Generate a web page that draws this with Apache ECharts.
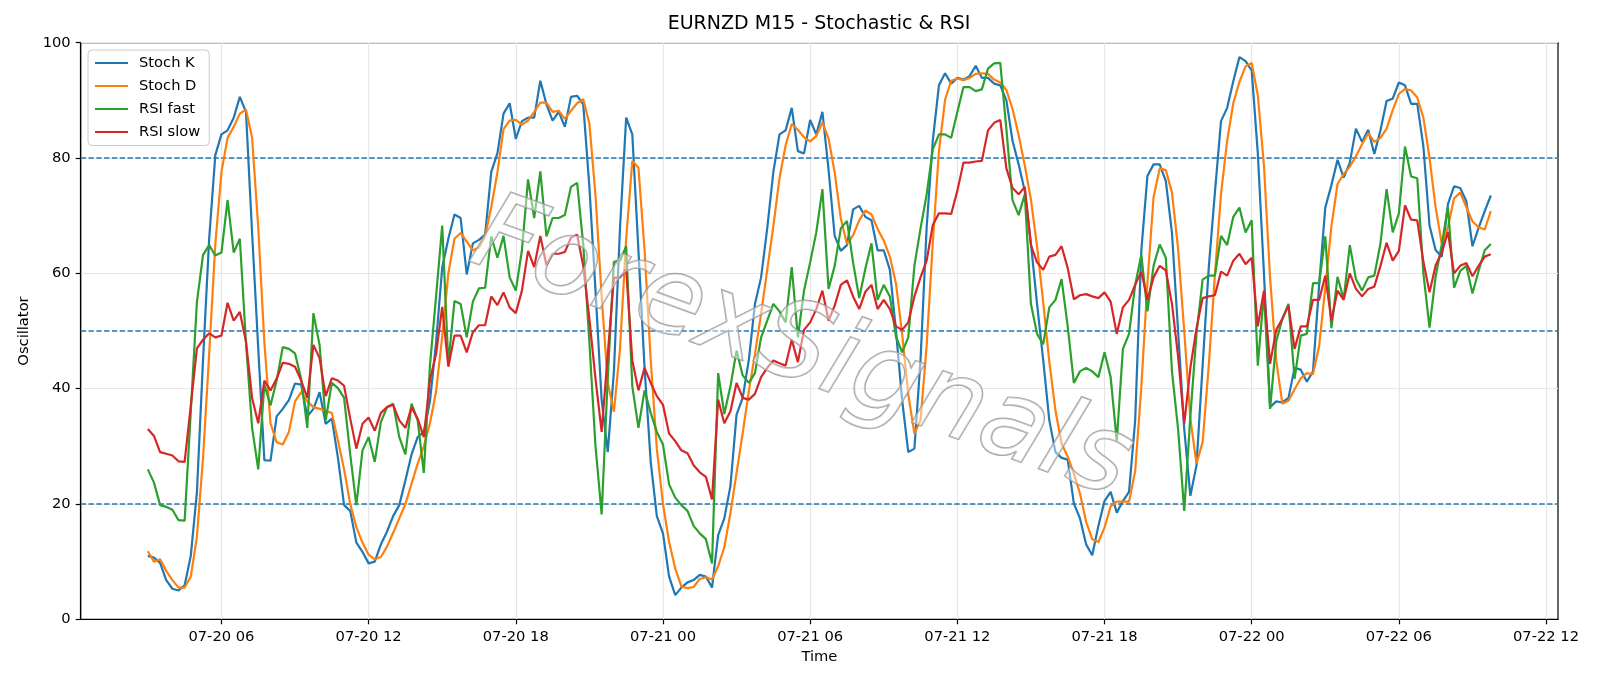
<!DOCTYPE html>
<html>
<head>
<meta charset="utf-8">
<script src="https://cdn.jsdelivr.net/npm/echarts@6/dist/echarts.min.js"></script>
<style>
  html, body { margin: 0; padding: 0; background: #fff; }
  #chart { width: 1600px; height: 686px; }
</style>
</head>
<body>
<div id="chart"></div>
<script>
// time: hours since 07-20 00:00, one point every 15 min starting 03:00
var START_HOUR = 3;
var STEP_HOUR = 0.25;

var tickHours = [6, 12, 18, 24, 30, 36, 42, 48, 54, 60];
var tickLabels = ['07-20 06', '07-20 12', '07-20 18', '07-21 00', '07-21 06',
                  '07-21 12', '07-21 18', '07-22 00', '07-22 06', '07-22 12'];
var levelLines = [20, 50, 80];

var stochK = [
  11.0, 10.7, 9.8, 6.8, 5.3, 5.0, 5.9, 11.0, 22, 45,
  66, 80.5, 84.1, 84.8, 87.0, 90.6, 88.0, 67, 47, 27.6,
  27.5, 35.2, 36.5, 38, 40.9, 40.7, 35.2, 36.5, 39.4, 33.9,
  34.8, 28.0, 19.8, 18.8, 13.3, 11.7, 9.7, 10.0, 13.0, 15.2,
  17.9, 19.8, 24.1, 28.6, 31.6, 32.5, 37.8, 48, 61, 66,
  70.2, 69.6, 59.8, 65.2, 65.8, 66.7, 77.6, 80.8, 87.7, 89.5,
  83.3, 86.4, 87.0, 87.0, 93.4, 89.3, 86.5, 88.0, 85.4, 90.6,
  90.8, 89.3, 75, 57, 38, 29.0, 43, 68, 87.0, 84.1,
  63.9, 43.6, 27.3, 17.9, 14.9, 7.4, 4.2, 5.5, 6.4, 6.8,
  7.7, 7.4, 5.5, 14.6, 17.5, 23.1, 35.5, 38.4, 45.0, 54.7,
  59.3, 67.8, 77.6, 84.1, 84.8, 88.7, 81.2, 80.8, 86.6, 84.1,
  88.0, 78, 66.5, 63.9, 64.9, 71.1, 71.7, 69.8, 69.2, 64.0,
  64.0, 60.6, 50, 38, 29.0, 29.6, 45, 68, 83, 92.6,
  94.7, 92.9, 93.9, 93.6, 94.2, 96.0, 93.9, 93.9, 92.9, 92.6,
  90.0, 83, 78.9, 74.3, 65.2, 54.7, 45.0, 34.5, 29.0, 28.0,
  27.7, 20.1, 17.5, 13.0, 11.1, 16.2, 20.5, 22.1, 18.5, 20.5,
  22.1, 34.5, 63.9, 76.9, 78.9, 78.9, 76, 67, 50, 33,
  21.4, 26.7, 44, 61, 74, 86.4, 88.7, 93.3, 97.5, 96.8,
  95.2, 80.8, 60.0, 36.8, 37.8, 37.6, 38.4, 43.6, 43.3, 41.2,
  43.0, 58, 71.4, 75.3, 79.7, 76.6, 79.2, 85.1, 82.8, 84.9,
  80.7, 84.8, 89.9, 90.3, 93.1, 92.6, 89.4, 89.4, 82, 68.3,
  64.0, 62.9, 72, 75.1, 74.8, 72.5, 64.7, 67.9, 70.8, 73.5
];

var stochD = [
  11.8, 10.0, 10.4, 8.4, 6.8, 5.5, 5.5, 7.4, 14.3, 28,
  46, 65, 77.6, 83.5, 85.4, 87.7, 88.4, 83.5, 68, 48,
  34, 30.7, 30.3, 32.5, 37.8, 39.4, 37.8, 36.8, 36.5, 36.1,
  35.8, 31, 26, 20, 16, 13.3, 11.2, 10.4, 10.8, 12.6,
  15, 17.5, 20, 23.5, 27, 30, 34, 39.5, 49, 60,
  66, 67, 65.5, 64, 64.5, 66.5, 71.5, 77.5, 85, 86.5,
  86.6, 85.8, 86.5, 88, 89.6, 89.6, 88, 88.2, 86.8, 88.2,
  89.5, 90.2, 86, 73.5, 56, 41, 36, 47, 66, 79.5,
  78.3, 64, 45, 29.6, 20, 13.4, 8.8, 5.7, 5.4, 5.6,
  7.0, 7.3, 6.9, 9.2, 12.5, 18.4, 25.4, 32.3, 39.6, 46,
  53, 60.6, 68.2, 76.5, 82.2, 85.9, 84.9, 83.6, 82.9, 83.8,
  86.2, 83.4, 77.5, 69.5, 65.1, 66.6, 69.2, 70.9, 70.2, 67.7,
  65.7, 62.9, 58.2, 49.5, 39, 32.2, 34.5, 47.5, 65.3, 81.2,
  90.1, 93.4, 93.8, 93.5, 93.9, 94.6, 94.7, 94.6, 93.6, 93.1,
  91.8, 88.5, 84, 78.7, 72.8, 64.7, 55, 44.7, 36.2, 30.5,
  28.2, 25.3, 21.8, 16.9, 13.9, 13.4, 15.9, 19.6, 20.4, 20.4,
  20.4, 25.7, 40.2, 58.4, 73.2, 78.2, 77.9, 74, 64.3, 50,
  34.8, 27, 30.7, 44, 59.7, 73.8, 83, 89.5, 93.2, 95.9,
  96.5, 90.9, 78.7, 59.2, 44.9, 37.4, 37.9, 39.9, 41.8, 42.7,
  42.5, 47.4, 57.5, 68.2, 75.5, 77.2, 78.5, 80.3, 82.4, 84.3,
  82.8, 83.5, 85.1, 88.3, 91.1, 92.0, 91.7, 90.5, 87, 80,
  71.4, 65.1, 68, 73, 74, 71.5, 69, 68, 67.6, 70.8
];

var rsiFast = [
  26.0, 23.7, 19.8, 19.5, 19.0, 17.2, 17.1, 36, 55, 63.2,
  64.9, 63.1, 63.6, 72.7, 63.6, 66.0, 48, 33.2, 26.0, 40.7,
  37.1, 41.4, 47.2, 46.9, 46.1, 41.7, 33.2, 53.1, 47.6, 34.5,
  41.0, 40.1, 38.4, 28.6, 19.8, 29.3, 31.6, 27.3, 34.2, 36.8,
  37.4, 31.6, 28.6, 37.4, 34.5, 25.4, 44, 56, 68.3, 44.3,
  55.2, 54.7, 48.9, 55.1, 57.4, 57.5, 66.4, 62.7, 66.5, 59.3,
  57.0, 64, 76.3, 69.6, 77.7, 66.4, 69.6, 69.6, 70.1, 75.0,
  75.7, 65, 48, 30, 18.2, 42, 62.0, 62.2, 64.7, 40.4,
  33.2, 39.7, 35.8, 32.5, 30.3, 23.4, 21.1, 19.8, 18.8, 16.2,
  14.9, 13.9, 9.7, 42.7, 35.6, 40.4, 46.6, 42.3, 41.0, 42.7,
  48.9, 51.8, 54.7, 53.4, 51.5, 61.1, 48.9, 57.0, 61.9, 67.1,
  74.6, 57.3, 61.3, 67.8, 69.1, 61.9, 55.7, 60.8, 65.2, 55.4,
  58.0, 56.0, 49, 46.3, 48.9, 61.3, 67.8, 73.7, 81.5, 84.1,
  84.1, 83.5, 88.0, 92.3, 92.3, 91.6, 91.9, 95.5, 96.4, 96.5,
  85, 72.7, 70.1, 73.7, 54.7, 49.5, 47.7, 54.1, 55.4, 59.0,
  50.8, 41.0, 43.0, 43.6, 43.0, 42.0, 46.3, 42.0, 30.9, 46.9,
  49.5, 58.0, 63.2, 53.4, 61.3, 65.0, 62.7, 43, 33, 18.8,
  35.2, 49.5, 58.9, 59.6, 59.6, 66.5, 64.9, 69.8, 71.4, 67.1,
  69.2, 44.0, 56.7, 36.5, 48.2, 52.1, 54.7, 41.7, 49.2, 49.5,
  58.3, 58.3, 66.4, 50.5, 59.4, 55.5, 64.9, 59.0, 57.0, 59.3,
  59.6, 65.2, 74.6, 67.1, 70.4, 82.0, 76.8, 76.5, 60, 50.6,
  59.5, 65, 71.5, 57.5, 60.4, 61.3, 56.5, 60.4, 64.0, 65.1
];

var rsiSlow = [
  33.0, 31.8, 29.0, 28.7, 28.4, 27.4, 27.3, 37, 47, 48.5,
  49.6, 48.9, 49.2, 54.9, 51.8, 53.3, 48.2, 38.4, 34.0, 41.4,
  39.7, 41.7, 44.5, 44.3, 43.8, 41.4, 38.4, 47.6, 45.3, 38.7,
  41.8, 41.4, 40.5, 34.8, 29.6, 33.9, 35.0, 32.7, 35.8, 36.8,
  37.2, 34.5, 33.2, 36.8, 34.8, 31.6, 41.5, 46, 54.2, 43.8,
  49.2, 49.2, 46.3, 49.8, 51.0, 51.0, 56.0, 54.5, 56.7, 54.1,
  53.1, 57.0, 63.9, 61.1, 66.5, 61.4, 63.4, 63.4, 63.7, 66.2,
  66.7, 61.3, 52.1, 41.7, 32.5, 46, 59.2, 59.3, 60.7, 44.9,
  39.7, 43.6, 41.0, 38.7, 37.2, 32.2, 30.9, 29.3, 28.8, 26.7,
  25.5, 24.7, 20.8, 38.1, 34.0, 36.1, 41.0, 38.4, 38.1, 39.1,
  42.0, 43.6, 44.9, 44.4, 44.0, 48.5, 44.6, 50.2, 51.5, 53.8,
  57.0, 51.8, 54.4, 58.0, 58.8, 56.0, 53.8, 56.8, 58.0, 53.8,
  55.4, 53.8, 50.8, 50.2, 51.5, 56.0, 59.3, 62.2, 68.4, 70.4,
  70.4, 70.3, 74.3, 79.2, 79.2, 79.4, 79.5, 84.8, 86.1, 86.6,
  78.2, 74.8, 73.7, 75.0, 64.9, 61.9, 60.6, 62.9, 63.2, 64.7,
  60.9, 55.5, 56.2, 56.4, 56.0, 55.7, 56.7, 55.1, 49.5, 54.1,
  55.4, 58.0, 60.3, 55.4, 59.3, 61.3, 60.5, 54.7, 45.6, 33.9,
  43.6, 50.5, 55.7, 56.0, 56.2, 60.3, 59.6, 62.2, 63.4, 61.6,
  62.7, 50.8, 57.0, 44.3, 50.2, 52.1, 54.4, 46.9, 50.8, 50.8,
  55.4, 55.4, 59.6, 51.8, 57.0, 55.4, 60.0, 57.3, 56.0, 57.3,
  57.7, 61.3, 65.3, 62.2, 63.9, 71.8, 69.3, 69.2, 62, 56.7,
  61.4, 63.6, 67.2, 60.0, 61.3, 61.8, 59.5, 61.3, 62.9, 63.3
];

var FONT = 'DejaVu Sans';
var n = stochK.length;
var XMIN = START_HOUR - STEP_HOUR * (n - 1) * 0.05;
var XMAX = START_HOUR + STEP_HOUR * (n - 1) * 1.05;

function toPairs(arr){
    return arr.map(function(v, i){ return [START_HOUR + i * STEP_HOUR, v]; });
}
function mkLine(name, color, arr){
    return {
        name: name,
        type: 'line',
        data: toPairs(arr),
        symbol: 'none',
        showSymbol: false,
        z: 4,
        lineStyle: { color: color, width: 2.2 },
        itemStyle: { color: color }
    };
}

var chart = echarts.init(document.getElementById('chart'), null, { renderer: 'canvas' });
chart.setOption({
    animation: false,
    backgroundColor: '#ffffff',
    legend: {
        data: ['Stoch K', 'Stoch D', 'RSI fast', 'RSI slow'],
        orient: 'vertical',
        left: 88,
        top: 50,
        padding: [5.5, 9, 6, 7],
        icon: 'rect',
        itemWidth: 33,
        itemHeight: 2.2,
        itemGap: 8,
        backgroundColor: 'rgba(255,255,255,0.8)',
        borderColor: '#cccccc',
        borderWidth: 1,
        borderRadius: 4,
        textStyle: { fontFamily: FONT, fontSize: 14.7, color: '#000', padding: [0, 0, 0, 6] }
    },
    grid: {
        left: 80.7, right: 42, top: 42.7, bottom: 66.7,
        show: true, borderColor: '#000', borderWidth: 1.2, backgroundColor: 'transparent'
    },
    xAxis: {
        type: 'value',
        min: XMIN,
        max: XMAX,
        name: 'Time',
        nameLocation: 'middle',
        nameGap: 30,
        nameTextStyle: { fontFamily: FONT, fontSize: 14.7, color: '#000' },
        axisLine: { show: true, lineStyle: { color: '#000', width: 1.2 } },
        axisTick: { show: true, length: 5, lineStyle: { color: '#000', width: 1.2 }, customValues: tickHours },
        axisLabel: {
            show: true, margin: 10, fontFamily: FONT, fontSize: 14.7, color: '#000',
            customValues: tickHours,
            formatter: function(v){
                var k = tickHours.indexOf(Math.round(v));
                return k >= 0 ? tickLabels[k] : '';
            }
        },
        splitLine: { show: false }
    },
    yAxis: {
        type: 'value',
        min: 0,
        max: 100,
        interval: 20,
        name: 'Oscillator',
        nameLocation: 'middle',
        nameGap: 44,
        nameTextStyle: { fontFamily: FONT, fontSize: 14.7, color: '#000' },
        axisLine: { show: true, lineStyle: { color: '#000', width: 1.2 } },
        axisTick: { show: true, length: 5, lineStyle: { color: '#000', width: 1.2 } },
        axisLabel: { margin: 10, fontFamily: FONT, fontSize: 14.7, color: '#000' },
        splitLine: { show: true, lineStyle: { color: '#e6e6e6', width: 1.2 } }
    },
    graphic: [{
        // title, centred over the plot area
        type: 'text',
        x: 819, y: 24,
        silent: true,
        style: {
            text: 'EURNZD M15 - Stochastic & RSI',
            font: '19px "DejaVu Sans"',
            fill: '#000',
            textAlign: 'center',
            textVerticalAlign: 'middle'
        }
    }, {
        // watermark: outlined text over the plot
        type: 'text',
        x: 801, y: 352,
        rotation: -0.35,
        z: 100,
        silent: true,
        style: {
            text: 'ForexSignals',
            font: 'italic 108px "DejaVu Sans"',
            fill: 'rgba(255,255,255,0.45)',
            stroke: 'rgba(140,140,140,0.8)',
            lineWidth: 1.8,
            textAlign: 'center',
            textVerticalAlign: 'middle'
        }
    }],
    series: [
        {
            name: 'grid-x',
            type: 'line',
            data: [],
            silent: true,
            markLine: {
                silent: true, symbol: 'none', z: 1,
                label: { show: false },
                lineStyle: { color: '#e6e6e6', width: 1.2, type: 'solid' },
                data: tickHours.map(function(h){ return { xAxis: h }; })
            }
        },
        {
            name: 'levels',
            type: 'line',
            data: [],
            silent: true,
            markLine: {
                silent: true, symbol: 'none', z: 2,
                label: { show: false },
                lineStyle: { color: '#1f77b4', width: 1.5, type: [5.4, 2.4] },
                data: levelLines.map(function(v){ return { yAxis: v }; })
            }
        },
        mkLine('Stoch K', '#1f77b4', stochK),
        mkLine('Stoch D', '#ff7f0e', stochD),
        mkLine('RSI fast', '#2ca02c', rsiFast),
        mkLine('RSI slow', '#d62728', rsiSlow)
    ]
});
</script>
</body>
</html>
